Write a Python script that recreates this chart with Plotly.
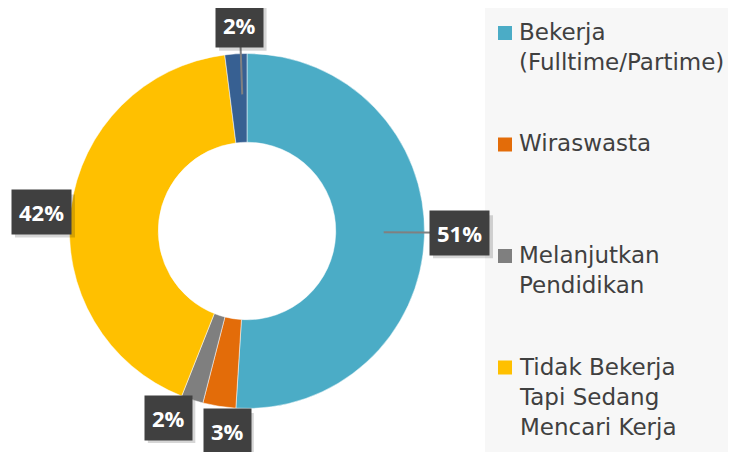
import math
import plotly.graph_objects as go

# ---- data ----
categories = ["Bekerja (Fulltime/Partime)", "Wiraswasta", "Melanjutkan Pendidikan",
              "Tidak Bekerja Tapi Sedang Mencari Kerja", "Lainnya"]
values = [51, 3, 2, 42, 2]
legend_lines = ["Bekerja<br>(Fulltime/Partime)", "Wiraswasta", "Melanjutkan<br>Pendidikan",
                "Tidak Bekerja<br>Tapi Sedang<br>Mencari Kerja"]
colors = ["#4BACC6", "#E36C09", "#7F7F7F", "#FFC000", "#376092"]

# ---- style / layout config ----
OFF = 8                              # page body margin
W, H = 736 - OFF, 452 - OFF          # figure size
CX, CY, R = 247, 231, 177.5          # pie centre / radius in screen px
label_r = [1.20, 1.13, 1.14, 1.16, 1.16]
label_nudge_deg = [-1.3, -3.3, 4.8, -1.9, 1.6]
leader = [True, False, False, False, True]

def px2paper(x, y):
    return (x - OFF) / W, 1 - (y - OFF) / H

fig = go.Figure()
dx0, dy0 = px2paper(CX - R, CY + R)
dx1, dy1 = px2paper(CX + R, CY - R)
fig.add_trace(go.Pie(
    labels=categories, values=values, hole=0.5, sort=False,
    direction="clockwise", rotation=0,
    marker=dict(colors=colors, line=dict(color="white", width=0.5)),
    textinfo="none", hoverinfo="label+percent", showlegend=False,
    domain=dict(x=[dx0, dx1], y=[dy0, dy1]),
))

shapes = []
annotations = []

# legend background
lbx, _ = px2paper(485, 0)
shapes.append(dict(type="rect", xref="paper", yref="paper", x0=lbx, x1=1,
                   y0=0, y1=1, fillcolor="#F7F7F7", line=dict(width=0), layer="below"))

lab_font = "Open Sans"
total = sum(values)
cum = 0
for i, v in enumerate(values):
    mid = (cum + v / 2) / total * 360
    cum += v
    ang = math.radians(mid + label_nudge_deg[i])
    lx = CX + R * label_r[i] * math.sin(ang)
    ly = CY - R * label_r[i] * math.cos(ang)
    if leader[i]:
        sx = CX + R * 0.77 * math.sin(ang)
        sy = CY - R * 0.77 * math.cos(ang)
        x0, y0 = px2paper(sx, sy)
        x1, y1 = px2paper(lx, ly)
        shapes.append(dict(type="line", xref="paper", yref="paper", x0=x0, y0=y0, x1=x1, y1=y1,
                           line=dict(color="#808080", width=2), layer="above"))
    pct = f"{round(v / total * 100)}%"
    # soft shadow behind the label box
    bw = 12.5 * (len(pct) - 1) + 35
    bh = 43
    s0x, s0y = px2paper(lx - bw / 2 + 3, ly + bh / 2 + 4)
    s1x, s1y = px2paper(lx + bw / 2 + 3, ly - bh / 2 + 4)
    shapes.append(dict(type="rect", xref="paper", yref="paper", x0=s0x, x1=s1x, y0=s0y, y1=s1y,
                       fillcolor="rgba(0,0,0,0.16)", line=dict(width=0), layer="above"))
    ax, ay = px2paper(lx, ly)
    annotations.append(dict(x=ax, y=ay, xref="paper", yref="paper", text=pct, showarrow=False,
                            xanchor="center", yanchor="middle",
                            font=dict(family=lab_font, size=22, color="white", weight="bold"),
                            bgcolor="#404040", borderpad=7))

# manual legend
leg_top, leg_step = 33, 111.5
for i, txt in enumerate(legend_lines):
    cy = leg_top + i * leg_step
    sx0, sy0 = px2paper(498, cy - 7)
    sx1, sy1 = px2paper(512, cy + 7)
    shapes.append(dict(type="rect", xref="paper", yref="paper", x0=sx0, x1=sx1, y0=sy1, y1=sy0,
                       fillcolor=colors[i], line=dict(width=0)))
    tx, ty = px2paper(517, cy - 16)
    annotations.append(dict(x=tx, y=ty, xref="paper", yref="paper", text=txt, showarrow=False,
                            xanchor="left", yanchor="top", align="left",
                            font=dict(family="DejaVu Sans", size=23, color="#404040")))

fig.update_layout(
    width=W, height=H, margin=dict(l=0, r=0, t=0, b=0),
    paper_bgcolor="white", plot_bgcolor="white",
    shapes=shapes, annotations=annotations, showlegend=False,
)
fig.write_html("out.html")
